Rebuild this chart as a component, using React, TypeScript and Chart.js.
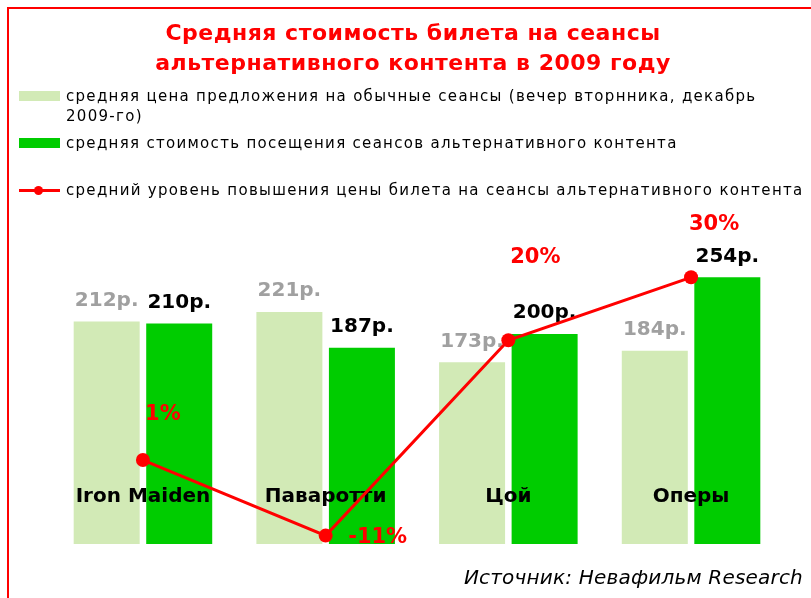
import React, { useEffect, useRef } from "react";
import { Chart, registerables } from "chart.js";

Chart.register(...registerables);

const categories = ["Iron Maiden", "Паваротти", "Цой", "Оперы"];
const regularPrice = [212, 221, 173, 184];
const altContentPrice = [210, 187, 200, 254];
const priceIncrease = [1, -11, 20, 30];

const titleLines = ["Средняя стоимость билета на сеансы", "альтернативного контента в 2009 году"];
const legendRegular = "средняя цена предложения на обычные сеансы (вечер вторнника, декабрь 2009-го)";
const legendAlt = "средняя стоимость посещения сеансов альтернативного контента";
const legendIncrease = "средний уровень повышения цены билета на сеансы альтернативного контента";
const sourceText = "Источник: Невафильм Research";

// label placement offsets (px) for percentage labels, relative to each point
const pctOffsets = [
  [20, -45],
  [52, 2],
  [27, -83],
  [23, -53],
];

const LIGHT = "#d2eab6";
const DARK = "#00cc00";
const RED = "#ff0000";
const FONT = "'DejaVu Sans', Verdana, sans-serif";

const labelPlugin = {
  id: "customLabels",
  beforeDatasetDraw(chart: any, args: any) {
    if (args.meta.type !== "line") return;
    const ctx = chart.ctx;
    const x = chart.scales.x;
    ctx.save();
    ctx.textAlign = "center";
    ctx.textBaseline = "middle";
    ctx.font = `bold 20px ${FONT}`;
    [0, 1].forEach((di) => {
      const meta = chart.getDatasetMeta(di);
      meta.data.forEach((bar: any, i: number) => {
        ctx.fillStyle = di === 0 ? "#a0a0a0" : "#000000";
        const v = chart.data.datasets[di].data[i];
        ctx.fillText(`${v}р.`, bar.x, bar.y - 21);
      });
    });
    ctx.fillStyle = "#000000";
    categories.forEach((c, i) => {
      ctx.fillText(c, x.getPixelForValue(i), 497);
    });
    ctx.restore();
  },
  afterDatasetsDraw(chart: any) {
    const ctx = chart.ctx;
    const meta = chart.getDatasetMeta(2);
    ctx.save();
    ctx.textAlign = "center";
    ctx.textBaseline = "middle";
    ctx.font = `bold 21px ${FONT}`;
    ctx.fillStyle = RED;
    meta.data.forEach((pt: any, i: number) => {
      const [dx, dy] = pctOffsets[i];
      ctx.fillText(`${priceIncrease[i]}%`, pt.x + dx, pt.y + dy);
    });
    ctx.restore();
  },
};

export default function App() {
  const ref = useRef<HTMLCanvasElement>(null);
  useEffect(() => {
    document.body.style.margin = "0";
    const chart = new Chart(ref.current!, {
      type: "bar",
      data: {
        labels: categories,
        datasets: [
          {
            type: "bar",
            label: legendRegular,
            data: regularPrice,
            backgroundColor: LIGHT,
            categoryPercentage: 0.794,
            barPercentage: 0.91,
            order: 1,
            yAxisID: "y",
          },
          {
            type: "bar",
            label: legendAlt,
            data: altContentPrice,
            backgroundColor: DARK,
            categoryPercentage: 0.794,
            barPercentage: 0.91,
            order: 1,
            yAxisID: "y",
          },
          {
            type: "line",
            label: legendIncrease,
            data: priceIncrease,
            borderColor: RED,
            backgroundColor: RED,
            borderWidth: 3,
            pointRadius: 7,
            pointBackgroundColor: RED,
            pointBorderWidth: 0,
            order: 0,
            yAxisID: "y1",
          },
        ] as any,
      },
      options: {
        animation: false,
        responsive: false,
        maintainAspectRatio: false,
        layout: { padding: { left: 51.6, right: 28.6, top: 229, bottom: 54 } },
        plugins: { legend: { display: false }, title: { display: false }, tooltip: { enabled: false } },
        scales: {
          x: { display: false },
          y: { display: false, min: 0, max: 300 },
          y1: { display: false, min: -12.33, max: 37.67, position: "right" },
        },
      },
      plugins: [labelPlugin],
    });
    return () => chart.destroy();
  }, []);

  const legendText: React.CSSProperties = {
    position: "absolute",
    left: 66,
    fontFamily: FONT,
    fontSize: 15,
    letterSpacing: "1.3px",
    lineHeight: "20px",
    color: "#000",
  };
  return (
    <div style={{ position: "fixed", left: 0, top: 0, width: 811, height: 598, background: "#fff", overflow: "hidden" }}>
      <canvas ref={ref} width={811} height={598} style={{ position: "absolute", left: 0, top: 0 }} />
      <div style={{ position: "absolute", left: 7, top: 7, width: 820, height: 620, border: `2px solid ${RED}` }} />
      <div
        style={{
          position: "absolute",
          left: 0,
          width: 826,
          top: 18,
          textAlign: "center",
          fontFamily: FONT,
          fontWeight: "bold",
          fontSize: 22,
          letterSpacing: "0.5px",
          lineHeight: "30px",
          color: RED,
        }}
      >
        {titleLines.map((t) => (
          <div key={t}>{t}</div>
        ))}
      </div>
      <div style={{ position: "absolute", left: 19, top: 91, width: 41, height: 10, background: LIGHT }} />
      <div style={{ ...legendText, top: 86, width: 715 }}>{legendRegular}</div>
      <div style={{ position: "absolute", left: 19, top: 138, width: 41, height: 10, background: DARK }} />
      <div style={{ ...legendText, top: 133, whiteSpace: "nowrap" }}>{legendAlt}</div>
      <div style={{ position: "absolute", left: 19, top: 189, width: 41, height: 3, background: RED }} />
      <div style={{ position: "absolute", left: 34, top: 186, width: 9, height: 9, borderRadius: "50%", background: RED }} />
      <div style={{ ...legendText, top: 180, whiteSpace: "nowrap" }}>{legendIncrease}</div>
      <div
        style={{
          position: "absolute",
          right: 8,
          top: 565,
          fontFamily: FONT,
          fontStyle: "italic",
          fontSize: 20,
          letterSpacing: "0.2px",
          color: "#000",
          whiteSpace: "nowrap",
        }}
      >
        {sourceText}
      </div>
    </div>
  );
}
